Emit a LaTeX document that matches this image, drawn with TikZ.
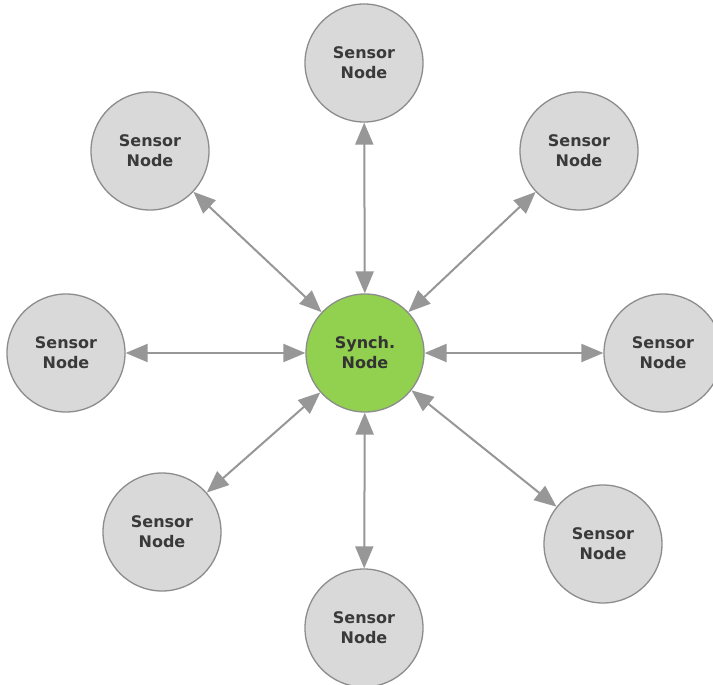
\documentclass[tikz,border=0pt]{standalone}
\usepackage{fontspec}
\setmainfont{DejaVu Sans}
\usetikzlibrary{arrows.meta}
\definecolor{nodegray}{HTML}{D9D9D9}
\definecolor{bordergray}{HTML}{8C8C8C}
\definecolor{arrowgray}{HTML}{979797}
\definecolor{textgray}{HTML}{3A3A3A}
\definecolor{syncgreen}{HTML}{92D050}
\begin{document}
\begin{tikzpicture}[x=1pt,y=-1pt,
  sensor/.style={circle, draw=bordergray, line width=1.3pt, fill=nodegray,
    minimum size=118pt, inner sep=0pt, align=center,
    font=\bfseries\fontsize{16}{20}\selectfont, text=textgray},
  hub/.style={sensor, fill=syncgreen, text=black!80},
  link/.style={draw=arrowgray, line width=2pt,
    {Triangle[length=22pt,width=18pt]}-{Triangle[length=22pt,width=18pt]}}]
\useasboundingbox (0,0) rectangle (713,685);
\clip (0,0) rectangle (713,685);
\fill[white] (0,0) rectangle (713,685);
\node[hub] (c) at (365,353) {Synch.\\Node};
\node[sensor] (t) at (364,63) {Sensor\\Node};
\node[sensor] (tl) at (150,151) {Sensor\\Node};
\node[sensor] (tr) at (579,151) {Sensor\\Node};
\node[sensor] (l) at (66,353) {Sensor\\Node};
\node[sensor] (r) at (663,353) {Sensor\\Node};
\node[sensor] (bl) at (162,532) {Sensor\\Node};
\node[sensor] (br) at (603,544) {Sensor\\Node};
\node[sensor] (b) at (364,628) {Sensor\\Node};
\foreach \n in {t,tl,tr,l,r,bl,br,b}
  \draw[link] (c) -- (\n);
\end{tikzpicture}
\end{document}
